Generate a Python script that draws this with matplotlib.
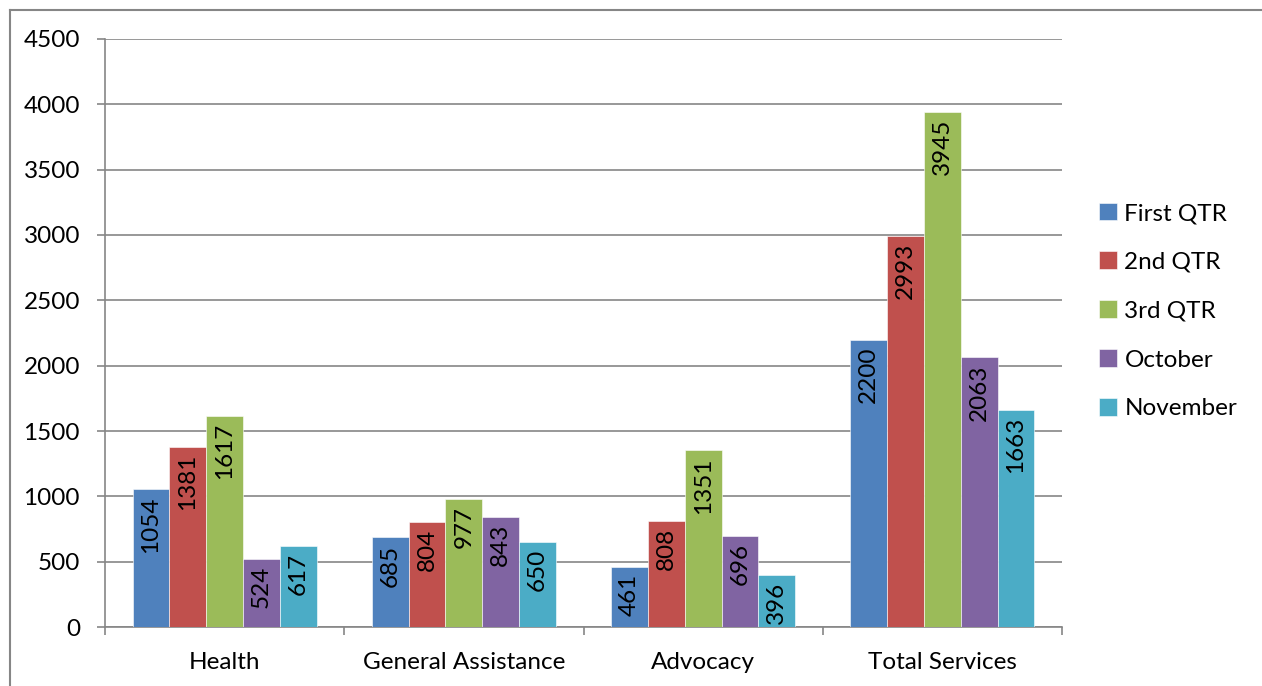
import matplotlib
matplotlib.use("Agg")
import matplotlib.pyplot as plt
from matplotlib.lines import Line2D
import numpy as np

categories = ["Health", "General Assistance", "Advocacy", "Total Services"]
series_names = ["First QTR", "2nd QTR", "3rd QTR", "October", "November"]
first_qtr = [1054, 685, 461, 2200]
second_qtr = [1381, 804, 808, 2993]
third_qtr = [1617, 977, 1351, 3945]
october = [524, 843, 696, 2063]
november = [617, 650, 396, 1663]
y_ticks = [0, 500, 1000, 1500, 2000, 2500, 3000, 3500, 4000, 4500]

series_values = [first_qtr, second_qtr, third_qtr, october, november]
colors = ["#4F81BD", "#C0504D", "#9BBB59", "#8064A2", "#4BACC6"]
grid_color = "#868686"

plt.rcParams["font.family"] = ["Lato", "DejaVu Sans"]
FS = 17.5

W, H = 1262, 686
fig = plt.figure(figsize=(W / 100, H / 100), dpi=100)
ax = fig.add_axes([105 / W, (H - 627) / H, (1062 - 105) / W, (627 - 39) / H])

n = len(series_names)
gap = 1.5
bw = 1.0 / (n + gap)
x = np.arange(len(categories))

for i, (name, vals, c) in enumerate(zip(series_names, series_values, colors)):
    offs = -0.5 + (gap / 2 + i + 0.5) * bw
    bars = ax.bar(x + offs, vals, width=bw, color=c, label=name,
                  edgecolor="white", linewidth=0.4, zorder=3)
    for b, v in zip(bars, vals):
        ax.annotate(str(v), xy=(b.get_x() + b.get_width() / 2, v),
                    xytext=(0, -5), textcoords="offset points",
                    rotation=90, ha="center", va="top",
                    fontsize=FS, color="black", zorder=4)

ax.set_xlim(-0.5, len(categories) - 0.5)
ax.set_ylim(0, 4500)
ax.set_yticks(y_ticks)
ax.set_yticklabels([str(t) for t in y_ticks], fontsize=FS)
ax.yaxis.grid(True, color=grid_color, linewidth=1.2, zorder=0)
ax.set_axisbelow(True)

# group boundary ticks, labels at group centres
ax.set_xticks(np.arange(len(categories) + 1) - 0.5)
ax.set_xticklabels([""] * (len(categories) + 1))
ax.set_xticks(x, minor=True)
ax.set_xticklabels(categories, minor=True, fontsize=FS)
ax.tick_params(axis="x", which="major", length=6, width=1.2, color=grid_color, direction="out")
ax.tick_params(axis="x", which="minor", length=0, pad=18)
ax.tick_params(axis="y", length=6, width=1.2, color=grid_color, pad=12)

for s in ["top", "right"]:
    ax.spines[s].set_visible(False)
for s in ["left", "bottom"]:
    ax.spines[s].set_color(grid_color)
    ax.spines[s].set_linewidth(1.2)

leg = fig.legend(loc="center left", bbox_to_anchor=(1077 / W, (H - 311) / H),
                 frameon=False, fontsize=FS, handlelength=0.75, handleheight=0.75,
                 handletextpad=0.3, labelspacing=1.13)

# chart area frame (top and left edges)
fig.add_artist(Line2D([9.5 / W, 1.0], [1 - 9.5 / H, 1 - 9.5 / H],
                      transform=fig.transFigure, color=grid_color, linewidth=1.5))
fig.add_artist(Line2D([9.5 / W, 9.5 / W], [0.0, 1 - 9.5 / H],
                      transform=fig.transFigure, color=grid_color, linewidth=1.5))

fig.savefig("out.png", dpi=100, facecolor="white")
